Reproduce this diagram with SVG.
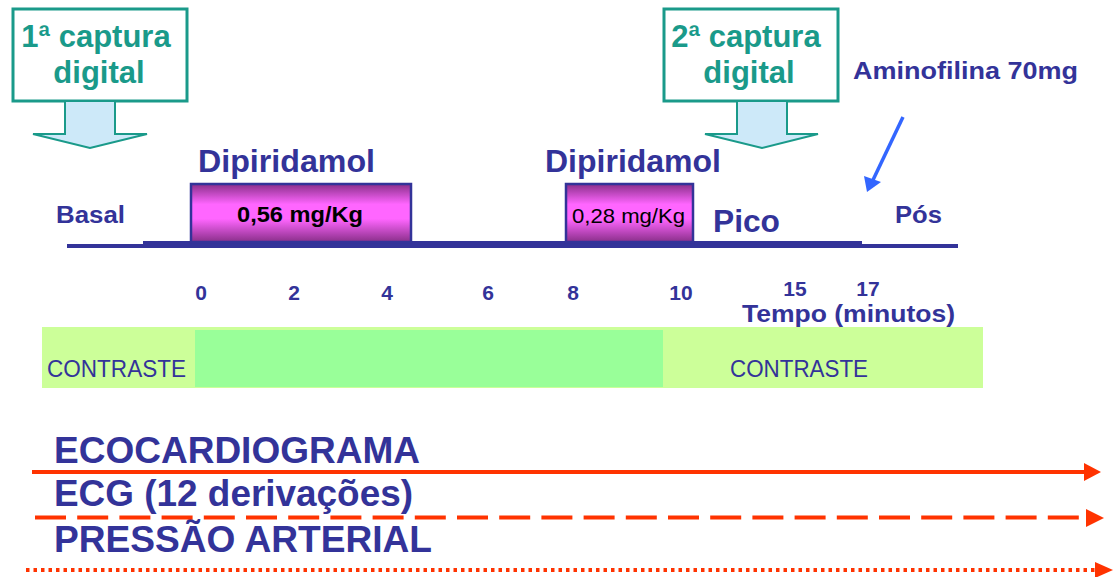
<svg xmlns="http://www.w3.org/2000/svg" width="1115" height="577" viewBox="0 0 1115 577">
<defs>
<linearGradient id="mag" x1="0" y1="0" x2="0" y2="1">
<stop offset="0" stop-color="#8a2f8a"/>
<stop offset="0.35" stop-color="#ff66ff"/>
<stop offset="0.6" stop-color="#ff66ff"/>
<stop offset="1" stop-color="#8a2f8a"/>
</linearGradient>
<style>
text{font-family:"Liberation Sans",Arial,sans-serif;}
.teal{fill:#1a9a8a;font-weight:bold;font-size:31px;text-anchor:middle;}
.cap{fill:#fff;stroke:#1a9a8a;stroke-width:3;}
.down{fill:#cde9f9;stroke:#1a9a8a;stroke-width:2;stroke-linejoin:miter;}
.blue{fill:#333399;font-weight:bold;}
.reg{fill:#333399;}
.dose{fill:url(#mag);stroke:#333399;stroke-width:2.5;}
.tick{fill:#333399;font-weight:bold;font-size:21px;text-anchor:middle;}
.big{fill:#333399;font-weight:bold;font-size:37px;}
.red{stroke:#ff3300;stroke-width:4;fill:none;}
.redh{fill:#ff3300;}
</style>
</defs>
<rect width="1115" height="577" fill="#fff"/>

<g id="captura1">
<rect class="cap" x="13" y="9" width="174" height="92"/>
<text class="teal" x="96" y="47">1ª captura</text>
<text class="teal" x="99" y="83">digital</text>
</g>
<g id="captura2">
<rect class="cap" x="664" y="9" width="174" height="92"/>
<text class="teal" x="746" y="47">2ª captura</text>
<text class="teal" x="749" y="83">digital</text>
</g>

<g id="aminofilina">
<text class="blue" x="853" y="79" font-size="23" textLength="225" lengthAdjust="spacingAndGlyphs">Aminofilina 70mg</text>
</g>

<g id="axis">
<rect x="67" y="244" width="891" height="4" fill="#333399"/>
<rect x="143" y="241" width="719" height="3" fill="#333399"/>
</g>

<g id="dipiridamol1">
<text class="blue" x="198" y="172" font-size="31" textLength="177" lengthAdjust="spacingAndGlyphs">Dipiridamol</text>
<rect class="dose" x="191" y="184" width="220" height="58"/>
<text x="237" y="222" font-size="22" font-weight="bold" fill="#000" textLength="126" lengthAdjust="spacingAndGlyphs">0,56 mg/Kg</text>
</g>
<g id="dipiridamol2">
<text class="blue" x="545" y="172" font-size="31" textLength="176" lengthAdjust="spacingAndGlyphs">Dipiridamol</text>
<rect class="dose" x="566" y="184" width="127" height="58"/>
<text x="572" y="223" font-size="20" fill="#000" textLength="113" lengthAdjust="spacingAndGlyphs">0,28 mg/Kg</text>
</g>

<g id="fases">
<text class="blue" x="56" y="223" font-size="23" textLength="69" lengthAdjust="spacingAndGlyphs">Basal</text>
<text class="blue" x="713" y="232" font-size="31" textLength="67" lengthAdjust="spacingAndGlyphs">Pico</text>
<text class="blue" x="895" y="223" font-size="24" textLength="47" lengthAdjust="spacingAndGlyphs">Pós</text>
</g>

<g id="tempo">
<text class="tick" x="201" y="300">0</text>
<text class="tick" x="294" y="300">2</text>
<text class="tick" x="387" y="300">4</text>
<text class="tick" x="488" y="300">6</text>
<text class="tick" x="573" y="300">8</text>
<text class="tick" x="681" y="300">10</text>
<text class="tick" x="795" y="296">15</text>
<text class="tick" x="868" y="296">17</text>
<text class="blue" x="742" y="322" font-size="24" textLength="213" lengthAdjust="spacingAndGlyphs">Tempo (minutos)</text>
</g>

<g id="contraste">
<rect x="42" y="327" width="941" height="61" fill="#ccff99"/>
<rect x="195" y="330" width="468" height="57" fill="#99ff99"/>
<text class="reg" x="47" y="377" font-size="23" textLength="139" lengthAdjust="spacingAndGlyphs">CONTRASTE</text>
<text class="reg" x="730" y="377" font-size="23" textLength="138" lengthAdjust="spacingAndGlyphs">CONTRASTE</text>
</g>

<g id="monitorizacao">
<text class="big" x="54" y="463" textLength="366" lengthAdjust="spacingAndGlyphs">ECOCARDIOGRAMA</text>
<text class="big" x="54" y="506" textLength="359" lengthAdjust="spacingAndGlyphs">ECG (12 derivações)</text>
<text class="big" x="54" y="552" textLength="378" lengthAdjust="spacingAndGlyphs">PRESSÃO ARTERIAL</text>
</g>

<g id="connectors">
<polygon class="down" points="65,101 115,101 115,134 147,134 90,148 33,134 65,134"/>
<polygon class="down" points="737,101 787,101 787,134 818,134 762,148 705,134 737,134"/>
<line x1="903" y1="117" x2="873" y2="180" stroke="#3366ff" stroke-width="3.5"/>
<polygon points="867,192 864,176 881,182" fill="#3366ff"/>
<line class="red" x1="32" y1="472" x2="1086" y2="472"/>
<polygon class="redh" points="1084,463 1101,472 1084,481"/>
<line class="red" x1="35" y1="517.5" x2="1082" y2="517.5" stroke-dasharray="31 11.2"/>
<polygon class="redh" points="1086,509 1104,518 1086,527"/>
<line class="red" x1="26" y1="570" x2="1095" y2="570" stroke-dasharray="3.5 4"/>
<polygon class="redh" points="1095,562 1113,570 1095,578"/>
</g>
</svg>
